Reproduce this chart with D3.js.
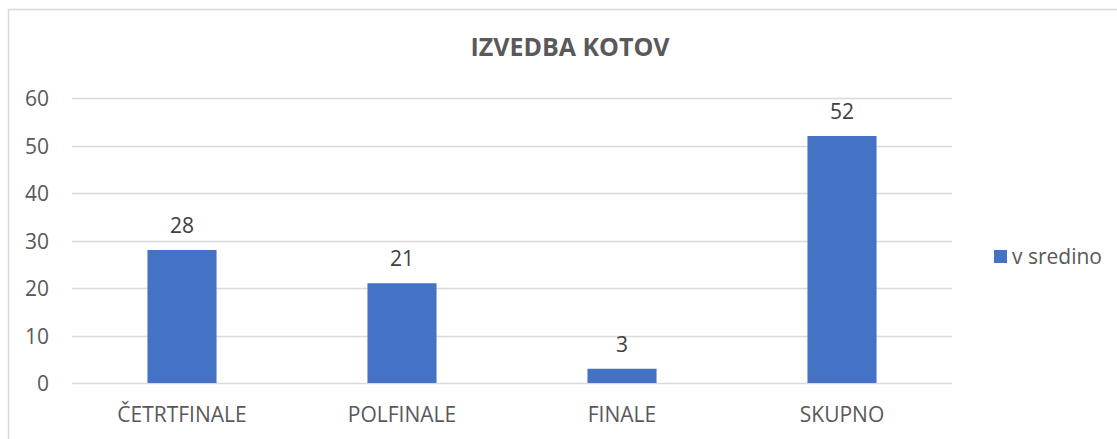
<!DOCTYPE html>
<html>
<head>
<meta charset="utf-8">
<script src="https://cdn.jsdelivr.net/npm/d3@7"></script>
<style>
  html, body { margin: 0; padding: 0; background: #fff; }
  svg { display: block; font-family: "Open Sans", sans-serif; }
</style>
</head>
<body>
<svg id="chart" width="1117" height="439"></svg>
<script>
const title = 'IZVEDBA KOTOV'
const categories = ['ČETRTFINALE', 'POLFINALE', 'FINALE', 'SKUPNO']
const seriesName = 'v sredino'
const values = [28, 21, 3, 52]
const yTicks = [0, 10, 20, 30, 40, 50, 60]

const svg = d3.select('#chart')

// chart area border (Excel style)
svg.append('rect')
  .attr('x', 8.5).attr('y', 9.5)
  .attr('width', 1140).attr('height', 460)
  .attr('fill', 'none')
  .attr('stroke', '#d9d9d9')
  .attr('stroke-width', 1.5)

const plot = { left: 72, right: 952, top: 98, bottom: 383 }

const x = d3.scaleBand()
  .domain(categories)
  .range([plot.left, plot.right])
  .paddingInner(0.686)
  .paddingOuter(0.343)

const y = d3.scaleLinear()
  .domain([0, 60])
  .range([plot.bottom, plot.top])

// gridlines
svg.append('g')
  .selectAll('line')
  .data(yTicks)
  .join('line')
  .attr('x1', plot.left).attr('x2', plot.right)
  .attr('y1', (d) => Math.round(y(d)) + 0.5)
  .attr('y2', (d) => Math.round(y(d)) + 0.5)
  .attr('stroke', '#d9d9d9')
  .attr('stroke-width', 1.5)

// y tick labels
svg.append('g')
  .selectAll('text')
  .data(yTicks)
  .join('text')
  .attr('x', 49)
  .attr('y', (d) => y(d) + 8)
  .attr('text-anchor', 'end')
  .attr('fill', '#595959')
  .style('font-size', '21px')
  .text((d) => d)

// bars
svg.append('g')
  .selectAll('rect')
  .data(values)
  .join('rect')
  .attr('x', (d, i) => x(categories[i]))
  .attr('width', x.bandwidth())
  .attr('y', (d) => y(d))
  .attr('height', (d) => y(0) - y(d))
  .attr('fill', '#4472c4')

// data labels
svg.append('g')
  .selectAll('text')
  .data(values)
  .join('text')
  .attr('x', (d, i) => x(categories[i]) + x.bandwidth() / 2)
  .attr('y', (d) => y(d) - 17)
  .attr('text-anchor', 'middle')
  .attr('fill', '#404040')
  .style('font-size', '21px')
  .text((d) => d)

// category labels
svg.append('g')
  .selectAll('text')
  .data(categories)
  .join('text')
  .attr('x', (d) => x(d) + x.bandwidth() / 2)
  .attr('y', 422)
  .attr('text-anchor', 'middle')
  .attr('fill', '#595959')
  .style('font-size', '21px')
  .text((d) => d)

// title
svg.append('text')
  .attr('x', 570)
  .attr('y', 56)
  .attr('text-anchor', 'middle')
  .attr('fill', '#595959')
  .style('font-size', '25px')
  .style('font-weight', '700')
  .text(title)

// legend
const legend = svg.append('g').attr('transform', 'translate(994,250)')
legend.append('rect')
  .attr('width', 13).attr('height', 13)
  .attr('fill', '#4472c4')
legend.append('text')
  .attr('x', 18)
  .attr('y', 14)
  .attr('fill', '#595959')
  .style('font-size', '21px')
  .text(seriesName)
</script>
</body>
</html>
